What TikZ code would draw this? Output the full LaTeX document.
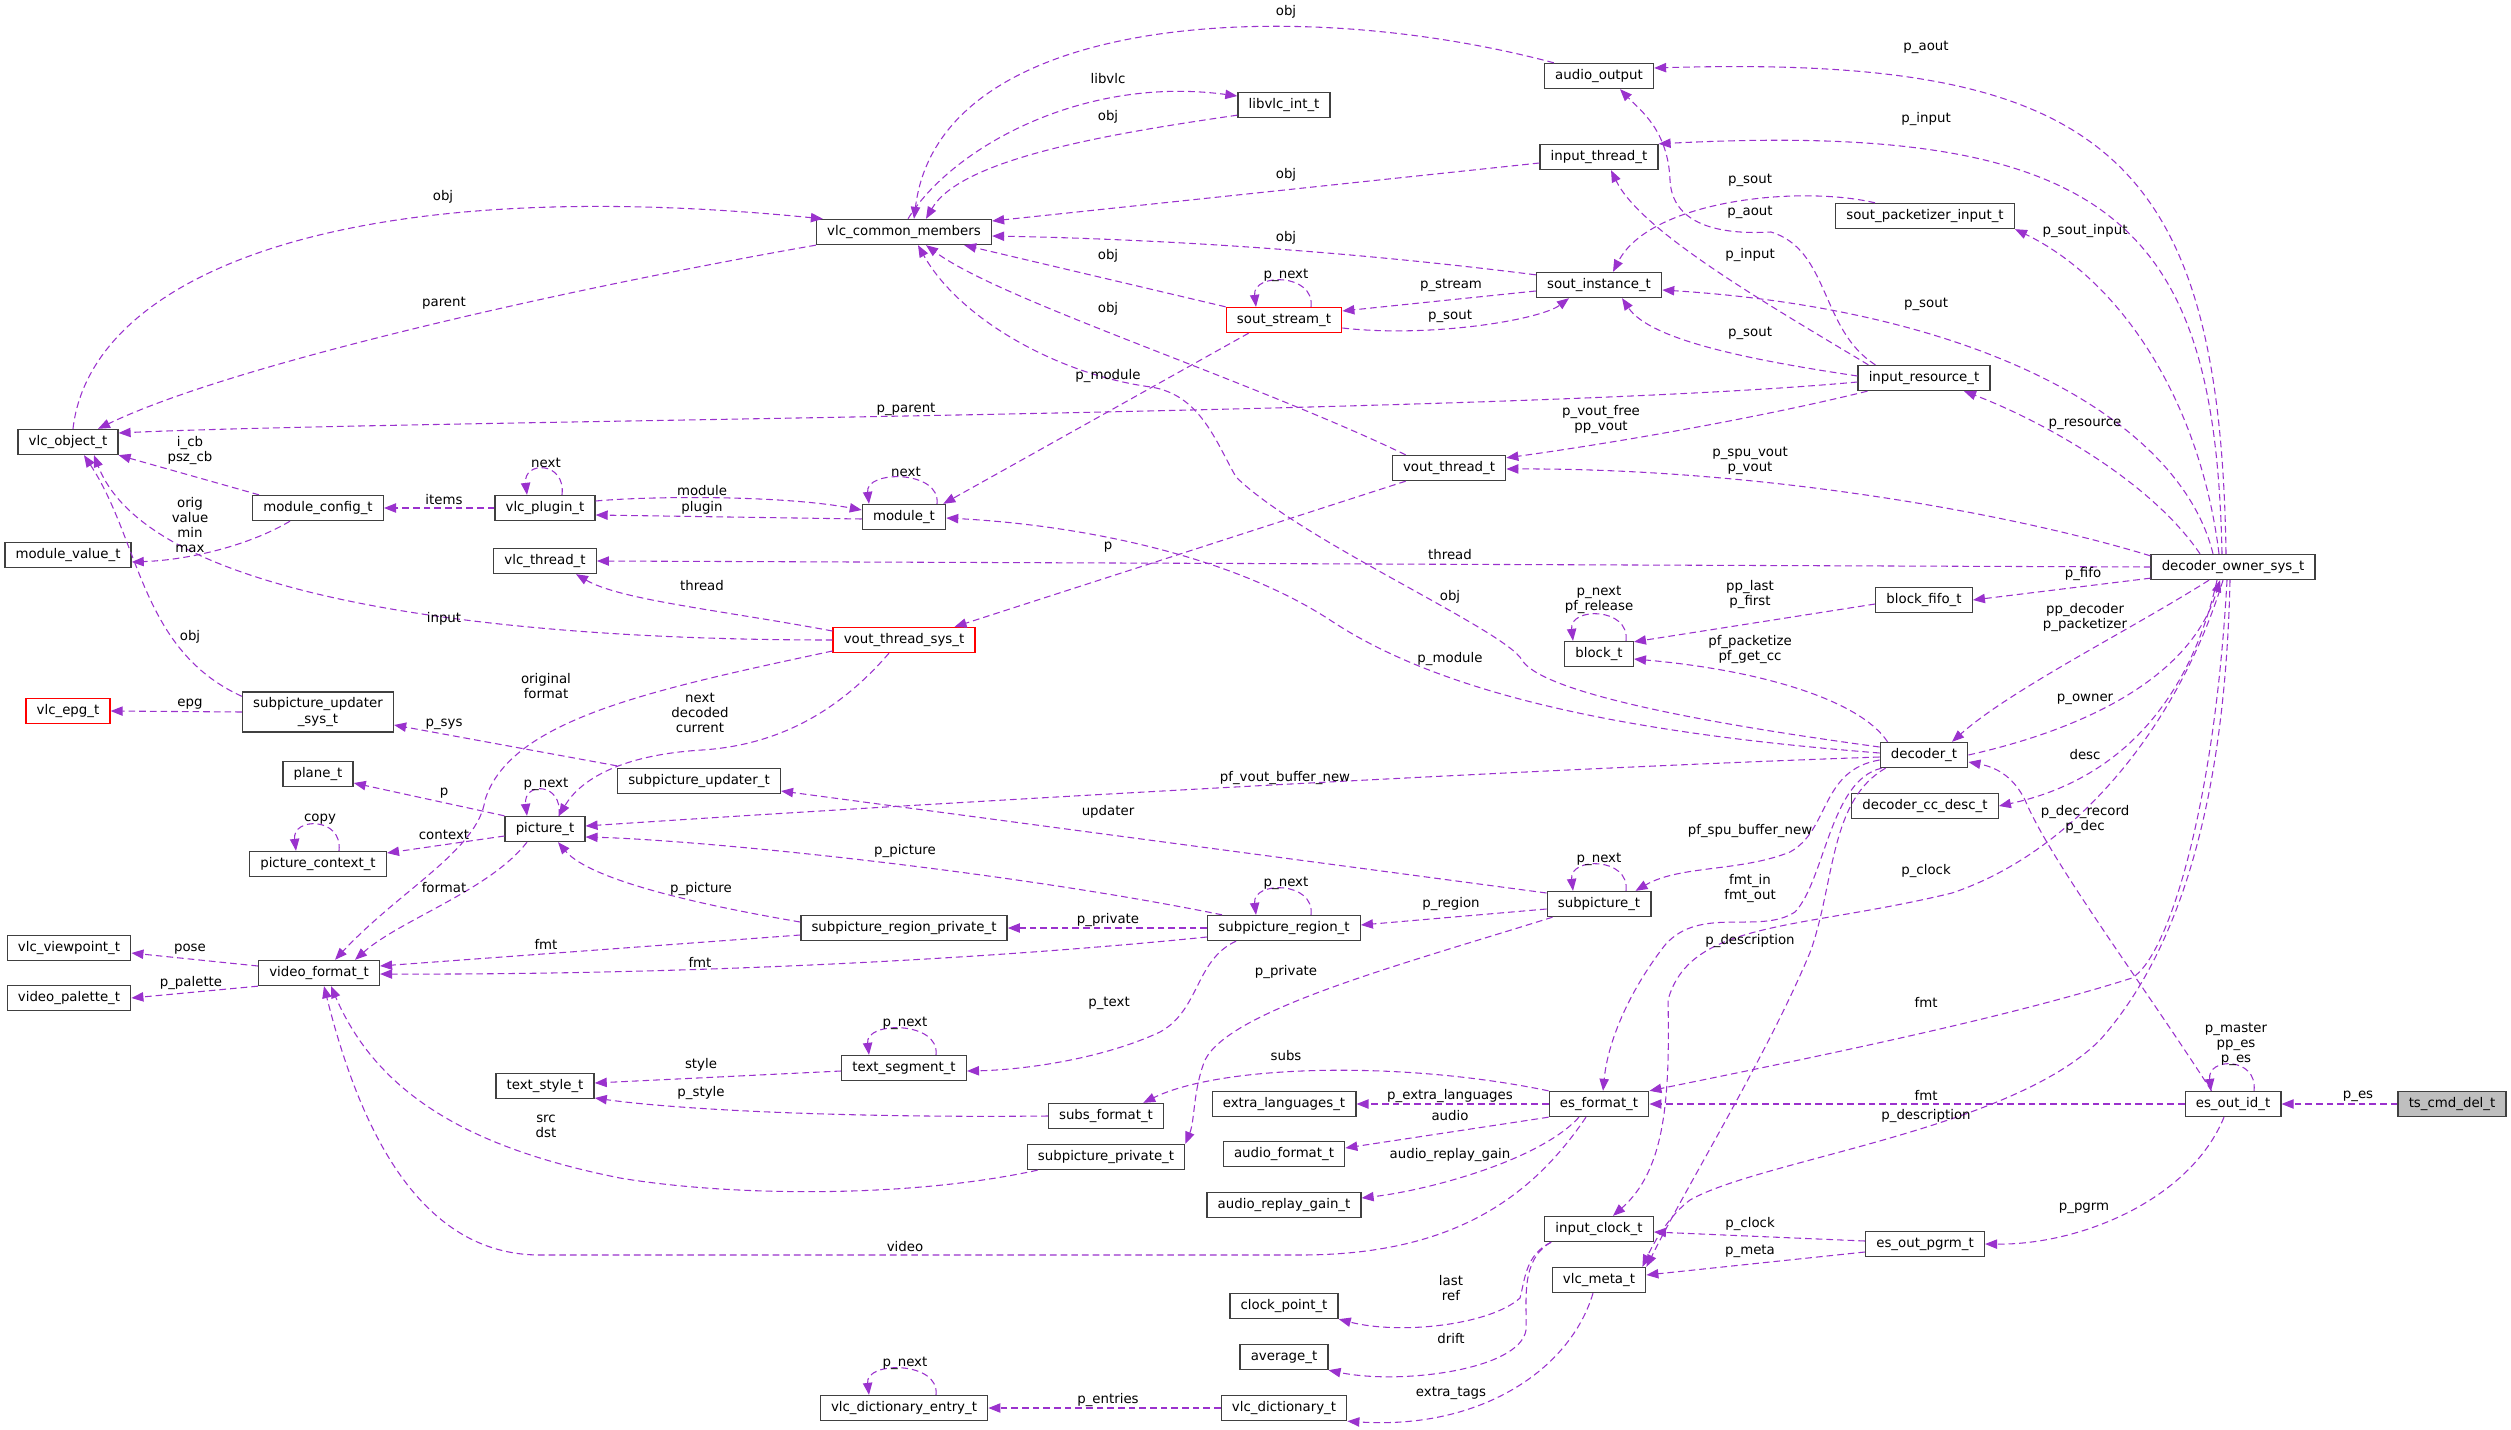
\documentclass[tikz,border=0pt]{standalone}
\usepackage{fontspec}
\setmainfont{DejaVu Sans}
\usetikzlibrary{positioning, calc, arrows.meta}

\begin{document}
\begin{tikzpicture}[
  x=0.75pt, y=-0.75pt,
  font=\fontsize{10}{11.25}\selectfont,
  cls/.style={draw=cbox, line width=1pt, fill=white, minimum height=18.75pt,
    inner xsep=8pt, inner ysep=0pt},
  hot/.style={cls, draw=red},
  rel/.style={draw=cedge, line width=0.8pt, dash pattern=on 5pt off 3pt,
    -{Triangle[length=9pt, width=7pt]}},
  lbl/.style={inner sep=0pt, align=center},
]
\definecolor{cedge}{HTML}{9A32CD}   % purple (usage edges)
\definecolor{cbox}{HTML}{404040}    % box border
\definecolor{cmain}{HTML}{BFBFBF}   % focus class

\useasboundingbox (0,0) rectangle (2511,1430);

% =====================================================================
% classes (centres in pixels of the original graph)
% =====================================================================
\node[cls] (vlcobj)     at (68,442)   {vlc\_object\_t};
\node[cls] (common)     at (904,232)  {vlc\_common\_members};
\node[cls] (libvlc)     at (1284,105) {libvlc\_int\_t};
\node[cls] (aout)       at (1599,76)  {audio\_output};
\node[cls] (inthr)      at (1599,157) {input\_thread\_t};
\node[cls] (soutinst)   at (1599,285) {sout\_instance\_t};
\node[hot] (soutstream) at (1284,320) {sout\_stream\_t};
\node[cls] (soutpkt)    at (1925,216) {sout\_packetizer\_input\_t};
\node[cls] (inres)      at (1924,378) {input\_resource\_t};
\node[cls] (voutthr)    at (1449,468) {vout\_thread\_t};
\node[cls] (owner)      at (2233,567) {decoder\_owner\_sys\_t};
\node[cls] (fifo)       at (1924,600) {block\_fifo\_t};
\node[cls] (block)      at (1599,654) {block\_t};
\node[cls] (dec)        at (1924,755) {decoder\_t};
\node[cls] (ccdesc)     at (1925,806) {decoder\_cc\_desc\_t};
\node[cls] (modcfg)     at (318,508)  {module\_config\_t};
\node[cls] (plugin)     at (545,508)  {vlc\_plugin\_t};
\node[cls] (modval)     at (68,555)   {module\_value\_t};
\node[cls] (thread)     at (545,561)  {vlc\_thread\_t};
\node[cls] (module)     at (904,517)  {module\_t};
\node[hot] (voutsys)    at (904,640)  {vout\_thread\_sys\_t};
\node[hot] (epg)        at (68,711)   {vlc\_epg\_t};
\node[cls, align=center, minimum height=30pt] (updsys) at (318,712) {subpicture\_updater\\\_sys\_t};
\node[cls] (upd)        at (699,781)  {subpicture\_updater\_t};
\node[cls] (plane)      at (318,774)  {plane\_t};
\node[cls] (pic)        at (545,829)  {picture\_t};
\node[cls] (picctx)     at (318,864)  {picture\_context\_t};
\node[cls] (spu)        at (1599,904) {subpicture\_t};
\node[cls] (region)     at (1284,928) {subpicture\_region\_t};
\node[cls] (regpriv)    at (904,928)  {subpicture\_region\_private\_t};
\node[cls] (viewpt)     at (69,948)   {vlc\_viewpoint\_t};
\node[cls] (vfmt)       at (319,973)  {video\_format\_t};
\node[cls] (palette)    at (69,998)   {video\_palette\_t};
\node[cls] (style)      at (545,1086) {text\_style\_t};
\node[cls] (textseg)    at (904,1068) {text\_segment\_t};
\node[cls] (subsfmt)    at (1106,1116) {subs\_format\_t};
\node[cls] (spupriv)    at (1106,1157) {subpicture\_private\_t};
\node[cls] (extralang)  at (1284,1104) {extra\_languages\_t};
\node[cls] (afmt)       at (1284,1154) {audio\_format\_t};
\node[cls] (arg)        at (1284,1205) {audio\_replay\_gain\_t};
\node[cls] (esfmt)      at (1599,1104) {es\_format\_t};
\node[cls] (esid)       at (2233,1104) {es\_out\_id\_t};
\node[cls, fill=cmain] (tscmd) at (2452,1104) {ts\_cmd\_del\_t};
\node[cls] (pgrm)       at (1925,1244) {es\_out\_pgrm\_t};
\node[cls] (clock)      at (1599,1229) {input\_clock\_t};
\node[cls] (meta)       at (1599,1280) {vlc\_meta\_t};
\node[cls] (clkpt)      at (1284,1306) {clock\_point\_t};
\node[cls] (avg)        at (1284,1357) {average\_t};
\node[cls] (dict)       at (1284,1408) {vlc\_dictionary\_t};
\node[cls] (dictent)    at (904,1408) {vlc\_dictionary\_entry\_t};

% =====================================================================
% object / common members
% =====================================================================
\draw[rel] ($(vlcobj.north)+(5,0)$) .. controls (90,280) and (330,170) .. ($(common.north west)+(7,0)$);
\draw[rel] (common.south west) .. controls (560,290) and (230,365) .. ($(vlcobj.north)+(30,0)$);
\draw[rel] ($(inres.west)+(0,4)$) .. controls (1500,415) and (400,420) .. ($(vlcobj.east)+(0,-9)$);
\draw[rel] ($(modcfg.north west)+(7,0)$) -- (vlcobj.south east);
\draw[rel] ($(updsys.north west)+(0,5)$) .. controls (140,650) and (140,540) .. ($(vlcobj.south)+(16,0)$);
\draw[rel] (voutsys.west) .. controls (500,640) and (150,600) .. ($(vlcobj.south)+(26,0)$);
\draw[rel] ($(libvlc.south west)+(0,-3)$) .. controls (1100,135) and (960,160) .. ($(common.north)+(22,0)$);
\draw[rel] ($(common.north)+(4,0)$) .. controls (950,150) and (1080,75) .. ($(libvlc.west)+(0,-9)$);
\draw[rel] ($(aout.north west)+(10,0)$) .. controls (1300,-5) and (940,10) .. ($(common.north)+(10,0)$);
\draw[rel] ($(inthr.west)+(0,6)$) -- ($(common.east)+(0,-11)$);
\draw[rel] ($(soutinst.north west)+(0,3)$) .. controls (1300,245) and (1100,238) .. ($(common.east)+(0,4)$);
\draw[rel] (soutstream.north west) -- ($(common.south east)+(-28,0)$);
\draw[rel] ($(voutthr.north west)+(14,0)$) .. controls (1250,380) and (1000,300) .. ($(common.south)+(22,0)$);
\draw[rel] ($(dec.west)+(0,-8)$) .. controls (1680,720) and (1540,690) .. (1522,660)
  .. controls (1505,630) and (1300,540) .. (1236,477)
  .. controls (1215,440) and (1200,395) .. (1151,387)
  .. controls (1060,375) and (960,320) .. ($(common.south)+(14,0)$);

% =====================================================================
% decoder owner and its neighbours
% =====================================================================
\draw[rel] ($(owner.north)+(-7,0)$) .. controls (2220,150) and (2100,55) .. ($(aout.east)+(0,-8)$);
\draw[rel] ($(owner.north)+(-11,0)$) .. controls (2215,230) and (2120,120) .. (inthr.north east);
\draw[rel] ($(owner.north)+(-20,0)$) .. controls (2180,420) and (1980,310) .. ($(soutinst.east)+(0,5)$);
\draw[rel] ($(owner.north)+(-14,0)$) .. controls (2200,400) and (2120,280) .. (soutpkt.south east);
\draw[rel] ($(owner.north)+(-33,0)$) .. controls (2150,480) and (2040,420) .. ($(inres.south)+(40,0)$);
\draw[rel] ($(owner.north west)+(0,2)$) .. controls (2000,510) and (1750,468) .. ($(voutthr.east)+(0,1)$);
\draw[rel] (owner.west) -- (thread.east);
\draw[rel] ($(owner.south west)+(0,-2)$) -- (fifo.east);
\draw[rel] ($(owner.south)+(-24,0)$) .. controls (2130,630) and (2010,690) .. ($(dec.north)+(28,0)$);
\draw[rel] (dec.east) .. controls (2080,730) and (2190,680) .. ($(owner.south)+(-13,0)$);
\draw[rel] ($(owner.south)+(-16,0)$) .. controls (2190,700) and (2120,780) .. (ccdesc.east);
\draw[rel] ($(owner.south)+(-10,0)$) .. controls (2180,720) and (2080,850) .. (1952,893)
  .. controls (1800,930) and (1690,920) .. (1668,1000)
  .. controls (1670,1100) and (1665,1170) .. ($(clock.north)+(14,0)$);
\draw[rel] ($(owner.south)+(-6,0)$) .. controls (2215,800) and (2170,955) .. (2132,978)
  .. controls (2000,1020) and (1800,1060) .. (esfmt.north east);
\draw[rel] ($(owner.south)+(-3,0)$) .. controls (2225,800) and (2180,950) .. (2100,1040)
  .. controls (2010,1130) and (1760,1160) .. (1690,1200)
  .. controls (1670,1215) and (1655,1240) .. ($(meta.north east)+(-4,0)$);

% =====================================================================
% input side: resource, stream output
% =====================================================================
\draw[rel] ($(inres.north west)+(18,0)$) .. controls (1820,330) and (1830,250) .. (1771,232)
  .. controls (1720,235) and (1672,225) .. (1670,180)
  .. controls (1668,130) and (1640,110) .. ($(aout.south)+(21,0)$);
\draw[rel] ($(inres.north west)+(11,0)$) .. controls (1760,300) and (1640,230) .. ($(inthr.south)+(12,0)$);
\draw[rel] ($(inres.west)+(0,-2)$) .. controls (1750,360) and (1650,340) .. ($(soutinst.south)+(23,0)$);
\draw[rel] ($(inres.south west)+(10,0)$) .. controls (1750,420) and (1600,445) .. ($(voutthr.north east)+(0,3)$);
\draw[rel] ($(soutpkt.north west)+(40,0)$) .. controls (1800,185) and (1650,200) .. ($(soutinst.north)+(14,0)$);
\draw[rel] ($(soutinst.west)+(0,6)$) -- ($(soutstream.east)+(0,-9)$);
\draw[rel] ($(soutstream.east)+(0,8)$) .. controls (1430,338) and (1540,320) .. ($(soutinst.south)+(-30,0)$);
\draw[rel] ($(soutstream.north)+(27,0)$) .. controls +(4,-34) and +(-4,-34) .. ($(soutstream.north)+(-28,0)$);
\draw[rel] ($(soutstream.south west)+(23,0)$) -- ($(module.north east)+(-3,0)$);

% =====================================================================
% video output, modules
% =====================================================================
\draw[rel] ($(voutthr.south west)+(14,0)$) -- ($(voutsys.north east)+(-21,0)$);
\draw[rel] ($(voutsys.west)+(0,-9)$) .. controls (720,610) and (620,600) .. ($(thread.south)+(31,0)$);
\draw[rel] ($(plugin.east)+(0,-7)$) .. controls (650,496) and (780,495) .. ($(module.west)+(0,-7)$);
\draw[rel] ($(module.west)+(0,2)$) -- ($(plugin.east)+(0,7)$);
\draw[rel] ($(module.north)+(33,0)$) .. controls +(4,-34) and +(-4,-34) .. ($(module.north)+(-35,0)$);
\draw[rel] ($(plugin.north)+(17,0)$) .. controls +(4,-34) and +(-4,-34) .. ($(plugin.north)+(-18,0)$);
\draw[rel] (plugin.west) -- (modcfg.east);
\draw[rel] ($(modcfg.south)+(-28,0)$) .. controls (250,545) and (190,560) .. ($(modval.east)+(0,7)$);
\draw[rel] ($(dec.west)+(0,-2)$) .. controls (1650,735) and (1450,700) .. (1330,620)
  .. controls (1230,555) and (1080,525) .. ($(module.east)+(0,1)$);
\draw[rel] (updsys.west) -- (epg.east);
\draw[rel] ($(upd.north west)+(0,-2)$) -- ($(updsys.east)+(0,13)$);
\draw[rel] ($(voutsys.west)+(0,11)$) .. controls (650,690) and (510,720) .. (485,800)
  .. controls (478,850) and (400,890) .. ($(vfmt.north)+(16,0)$);
\draw[rel] ($(voutsys.south)+(-15,0)$) .. controls (840,710) and (780,745) .. (702,750)
  .. controls (620,755) and (580,780) .. ($(pic.north)+(14,0)$);

% =====================================================================
% pictures and subpictures
% =====================================================================
\draw[rel] ($(pic.north)+(14,0)$) .. controls +(4,-34) and +(-4,-34) .. ($(pic.north)+(-18,0)$);
\draw[rel] (pic.north west) -- ($(plane.east)+(0,9)$);
\draw[rel] ($(pic.west)+(0,7)$) -- ($(picctx.east)+(0,-11)$);
\draw[rel] ($(picctx.north)+(21,0)$) .. controls +(4,-34) and +(-4,-34) .. ($(picctx.north)+(-22,0)$);
\draw[rel] ($(pic.south)+(-18,0)$) .. controls (490,890) and (400,920) .. ($(vfmt.north)+(36,0)$);
\draw[rel] ($(dec.west)+(0,2)$) .. controls (1500,770) and (900,805) .. ($(pic.east)+(0,-3)$);
\draw[rel] ($(spu.west)+(0,-11)$) -- ($(upd.east)+(0,10)$);
\draw[rel] ($(region.north west)+(15,0)$) .. controls (1000,870) and (700,840) .. ($(pic.east)+(0,8)$);
\draw[rel] ($(regpriv.west)+(0,-6)$) .. controls (700,905) and (590,880) .. ($(pic.south)+(13,0)$);
\draw[rel] (region.west) -- (regpriv.east);
\draw[rel] ($(regpriv.west)+(0,7)$) -- ($(vfmt.east)+(0,-7)$);
\draw[rel] ($(region.west)+(0,9)$) .. controls (1000,958) and (700,975) .. ($(vfmt.east)+(0,1)$);
\draw[rel] ($(region.north)+(27,0)$) .. controls +(4,-34) and +(-4,-34) .. ($(region.north)+(-28,0)$);
\draw[rel] ($(spu.west)+(0,5)$) -- ($(region.east)+(0,-3)$);
\draw[rel] ($(spu.north)+(27,0)$) .. controls +(4,-34) and +(-4,-34) .. ($(spu.north)+(-26,0)$);
\draw[rel] ($(spu.south west)+(6,0)$) .. controls (1400,965) and (1230,1010) .. (1205,1060)
  .. controls (1193,1090) and (1195,1120) .. (spupriv.north east);
\draw[rel] ($(region.south)+(-48,0)$) .. controls (1195,960) and (1200,1010) .. (1160,1032)
  .. controls (1100,1060) and (1020,1070) .. ($(textseg.east)+(0,3)$);
\draw[rel] ($(textseg.north)+(32,0)$) .. controls +(4,-34) and +(-4,-34) .. ($(textseg.north)+(-35,0)$);
\draw[rel] ($(textseg.west)+(0,3)$) -- ($(style.east)+(0,-3)$);
\draw[rel] (subsfmt.west) .. controls (850,1118) and (680,1110) .. ($(style.east)+(0,12)$);
\draw[rel] ($(spupriv.south west)+(11,0)$) .. controls (900,1200) and (720,1195) .. (620,1178)
  .. controls (480,1150) and (380,1100) .. ($(vfmt.south)+(12,0)$);
\draw[rel] ($(vfmt.west)+(0,-7)$) -- ($(viewpt.east)+(0,5)$);
\draw[rel] (vfmt.south west) -- (palette.east);

% =====================================================================
% decoder, formats, clocks
% =====================================================================
\draw[rel] ($(block.north)+(27,0)$) .. controls +(4,-34) and +(-4,-34) .. ($(block.north)+(-26,0)$);
\draw[rel] ($(fifo.west)+(0,4)$) -- ($(block.north east)+(0,1)$);
\draw[rel] ($(dec.north west)+(8,0)$) .. controls (1860,700) and (1760,670) .. ($(block.east)+(0,5)$);
\draw[rel] ($(dec.west)+(0,5)$) .. controls (1820,770) and (1830,830) .. (1790,852)
  .. controls (1740,872) and (1680,865) .. ($(spu.north east)+(-16,0)$);
\draw[rel] ($(dec.south west)+(2,0)$) .. controls (1830,780) and (1825,880) .. (1795,912)
  .. controls (1760,935) and (1700,905) .. (1665,945)
  .. controls (1630,990) and (1608,1040) .. ($(esfmt.north)+(4,0)$);
\draw[rel] ($(dec.south west)+(6,0)$) .. controls (1830,800) and (1835,880) .. (1811,950)
  .. controls (1770,1050) and (1690,1180) .. (meta.north east);
\draw[rel] ($(esid.north west)+(27,0)$) .. controls (2140,980) and (2050,860) .. (2025,800)
  .. controls (2015,780) and (2000,768) .. ($(dec.east)+(0,7)$);
\draw[rel] ($(esid.north)+(21,0)$) .. controls +(4,-34) and +(-4,-34) .. ($(esid.north)+(-22,0)$);
\draw[rel] (tscmd.west) -- (esid.east);
\draw[rel] (esid.west) -- (esfmt.east);
\draw[rel] ($(esid.south)+(-9,0)$) .. controls (2190,1200) and (2080,1245) .. (pgrm.east);
\draw[rel] ($(pgrm.west)+(0,-3)$) -- ($(clock.east)+(0,3)$);
\draw[rel] ($(pgrm.west)+(0,8)$) -- ($(meta.east)+(0,-5)$);
\draw[rel] ($(esfmt.south)+(-13,0)$) .. controls (1530,1200) and (1450,1255) .. (1300,1255)
  -- (540,1255) .. controls (420,1255) and (360,1130) .. ($(vfmt.south)+(5,0)$);
\draw[rel] (esfmt.north west) .. controls (1400,1060) and (1220,1065) .. ($(subsfmt.north east)+(-21,0)$);
\draw[rel] (esfmt.west) -- (extralang.east);
\draw[rel] (esfmt.south west) -- ($(afmt.east)+(0,-6)$);
\draw[rel] ($(esfmt.south)+(-20,0)$) .. controls (1540,1160) and (1430,1190) .. ($(arg.east)+(0,-7)$);
\draw[rel] ($(clock.south west)+(7,0)$) .. controls (1525,1255) and (1525,1280) .. (1520,1298)
  .. controls (1490,1325) and (1400,1335) .. (clkpt.south east);
\draw[rel] ($(clock.south west)+(7,0)$) .. controls (1520,1260) and (1527,1300) .. (1526,1330)
  .. controls (1520,1370) and (1400,1385) .. (avg.south east);
\draw[rel] ($(meta.south)+(-6,0)$) .. controls (1570,1370) and (1480,1430) .. (dict.south east);
\draw[rel] (dict.west) -- (dictent.east);
\draw[rel] ($(dictent.north)+(32,0)$) .. controls +(4,-34) and +(-4,-34) .. ($(dictent.north)+(-35,0)$);

% =====================================================================
% edge labels
% =====================================================================
\node[lbl] (l1)  at (443,197)  {obj};
\node[lbl] (l2)  at (444,303)  {parent};
\node[lbl] (l3)  at (906,409)  {p\_parent};
\node[lbl] (l4)  at (190,451)  {i\_cb\\psz\_cb};
\node[lbl] (l5)  at (546,463)  {next};
\node[lbl] (l6)  at (1108,79)  {libvlc};
\node[lbl] (l7)  at (1108,117) {obj};
\node[lbl] (l8)  at (1286,12)  {obj};
\node[lbl] (l9)  at (1286,175) {obj};
\node[lbl] (l10) at (1286,238) {obj};
\node[lbl] (l11) at (1108,256) {obj};
\node[lbl] (l12) at (1108,309) {obj};
\node[lbl] (l13) at (1108,376) {p\_module};
\node[lbl] (l14) at (1286,275) {p\_next};
\node[lbl] (l15) at (1451,285) {p\_stream};
\node[lbl] (l16) at (1450,316) {p\_sout};
\node[lbl] (l17) at (1750,180) {p\_sout};
\node[lbl] (l18) at (1750,212) {p\_aout};
\node[lbl] (l19) at (1750,255) {p\_input};
\node[lbl] (l20) at (1750,333) {p\_sout};
\node[lbl] (l21) at (1926,47)  {p\_aout};
\node[lbl] (l22) at (1926,119) {p\_input};
\node[lbl] (l23) at (2085,231) {p\_sout\_input};
\node[lbl] (l24) at (1926,304) {p\_sout};
\node[lbl] (l25) at (2085,424) {p\_resource};
\node[lbl] (l26) at (1601,420) {p\_vout\_free\\pp\_vout};
\node[lbl] (l27) at (1750,461) {p\_spu\_vout\\p\_vout};
\node[lbl] (l28) at (1450,555) {thread};
\node[lbl] (l29) at (1108,547) {p};
\node[lbl] (l30) at (702,586)  {thread};
\node[lbl] (l31) at (702,491)  {module};
\node[lbl] (l32) at (702,508)  {plugin};
\node[lbl] (l33) at (906,472)  {next};
\node[lbl] (l34) at (444,500)  {items};
\node[lbl] (l35) at (190,525)  {orig\\value\\min\\max};
\node[lbl] (l36) at (444,619)  {input};
\node[lbl] (l37) at (190,637)  {obj};
\node[lbl] (l38) at (190,704)  {epg};
\node[lbl] (l39) at (444,724)  {p\_sys};
\node[lbl] (l40) at (546,686)  {original\\format};
\node[lbl] (l41) at (700,713)  {next\\decoded\\current};
\node[lbl] (l42) at (444,793)  {p};
\node[lbl] (l43) at (546,784)  {p\_next};
\node[lbl] (l44) at (320,819)  {copy};
\node[lbl] (l45) at (444,835)  {context};
\node[lbl] (l46) at (444,888)  {format};
\node[lbl] (l47) at (546,944)  {fmt};
\node[lbl] (l48) at (190,949)  {pose};
\node[lbl] (l49) at (191,983)  {p\_palette};
\node[lbl] (l50) at (700,962)  {fmt};
\node[lbl] (l51) at (1285,778) {pf\_vout\_buffer\_new};
\node[lbl] (l52) at (1108,812) {updater};
\node[lbl] (l53) at (905,851)  {p\_picture};
\node[lbl] (l54) at (701,889)  {p\_picture};
\node[lbl] (l55) at (1108,920) {p\_private};
\node[lbl] (l56) at (1286,883) {p\_next};
\node[lbl] (l57) at (1451,904) {p\_region};
\node[lbl] (l58) at (1599,859) {p\_next};
\node[lbl] (l59) at (1750,831) {pf\_spu\_buffer\_new};
\node[lbl] (l60) at (1750,888) {fmt\_in\\fmt\_out};
\node[lbl] (l61) at (1750,941) {p\_description};
\node[lbl] (l62) at (1286,972) {p\_private};
\node[lbl] (l63) at (1109,1003) {p\_text};
\node[lbl] (l64) at (905,1023) {p\_next};
\node[lbl] (l65) at (701,1065) {style};
\node[lbl] (l66) at (701,1093) {p\_style};
\node[lbl] (l67) at (546,1126) {src\\dst};
\node[lbl] (l68) at (1286,1056) {subs};
\node[lbl] (l69) at (1450,1096) {p\_extra\_languages};
\node[lbl] (l70) at (1450,1116) {audio};
\node[lbl] (l71) at (1450,1155) {audio\_replay\_gain};
\node[lbl] (l72) at (905,1247) {video};
\node[lbl] (l73) at (1750,1224) {p\_clock};
\node[lbl] (l74) at (1750,1251) {p\_meta};
\node[lbl] (l75) at (1451,1288) {last\\ref};
\node[lbl] (l76) at (1451,1339) {drift};
\node[lbl] (l77) at (1451,1393) {extra\_tags};
\node[lbl] (l78) at (905,1363) {p\_next};
\node[lbl] (l79) at (1108,1400) {p\_entries};
\node[lbl] (l80) at (1926,1002) {fmt};
\node[lbl] (l81) at (1926,1095) {fmt};
\node[lbl] (l82) at (1926,1116) {p\_description};
\node[lbl] (l83) at (2236,1044) {p\_master\\pp\_es\\p\_es};
\node[lbl] (l84) at (2358,1096) {p\_es};
\node[lbl] (l85) at (2084,1208) {p\_pgrm};
\node[lbl] (l86) at (2083,574) {p\_fifo};
\node[lbl] (l87) at (2085,618) {pp\_decoder\\p\_packetizer};
\node[lbl] (l88) at (2085,699) {p\_owner};
\node[lbl] (l89) at (2085,755) {desc};
\node[lbl] (l90) at (2085,819) {p\_dec\_record\\p\_dec};
\node[lbl] (l91) at (1926,871) {p\_clock};
\node[lbl] (l92) at (1599,600) {p\_next\\pf\_release};
\node[lbl] (l93) at (1750,595) {pp\_last\\p\_first};
\node[lbl] (l94) at (1750,650) {pf\_packetize\\pf\_get\_cc};
\node[lbl] (l95) at (1450,597) {obj};
\node[lbl] (l96) at (1450,659) {p\_module};

\end{tikzpicture}
\end{document}
